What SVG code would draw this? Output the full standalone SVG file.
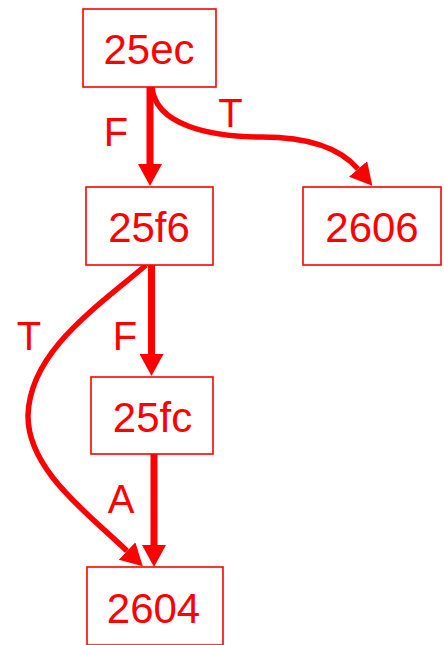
<svg xmlns="http://www.w3.org/2000/svg" width="444" height="645" viewBox="0 0 444 645">
<style>
.box{fill:#fff;stroke:#f00;stroke-width:1.6}
.lbl{font-family:"Liberation Sans",Arial,sans-serif;font-size:42px;fill:#f00;text-anchor:middle}
.el{font-family:"Liberation Sans",Arial,sans-serif;font-size:40px;fill:#f00;text-anchor:middle}
.e{fill:none;stroke:#f00;marker-end:url(#ah)}
.s{stroke-width:7}
.c{stroke-width:5.5}
</style>
<defs>
<marker id="ah" viewBox="0 0 22 24" refX="0" refY="12" markerWidth="22" markerHeight="24" markerUnits="userSpaceOnUse" orient="auto">
<path d="M0,0 L22,12 L0,24 z" fill="#f00"/>
</marker>
</defs>
<g id="connectors">
<path class="e s" d="M150,87 L150,164"/>
<path class="e c" d="M152,87 C155,125 210,137 262,137 C310,137 340,148 358,169"/>
<path class="e s" d="M151.5,265 L151.5,354"/>
<path class="e c" d="M146,265 C100,305 30,350 28,415 C27,470 90,515 127,551"/>
<path class="e s" d="M154,454 L154,545"/>
<text class="el" x="116" y="146">F</text>
<text class="el" x="230.5" y="127">T</text>
<text class="el" x="29" y="350">T</text>
<text class="el" x="125" y="350">F</text>
<text class="el" x="121" y="513">A</text>
</g>
<g id="n25ec"><rect class="box" x="83" y="9" width="133" height="78"/><text class="lbl" x="149" y="64">25ec</text></g>
<g id="n25f6"><rect class="box" x="86" y="187" width="127" height="78"/><text class="lbl" x="149" y="242">25f6</text></g>
<g id="n2606"><rect class="box" x="303" y="187" width="138" height="78"/><text class="lbl" x="372" y="242">2606</text></g>
<g id="n25fc"><rect class="box" x="91" y="377" width="122" height="77"/><text class="lbl" x="152.5" y="432">25fc</text></g>
<g id="n2604"><rect class="box" x="87" y="567" width="136" height="78"/><text class="lbl" x="153.5" y="623">2604</text></g>
</svg>
